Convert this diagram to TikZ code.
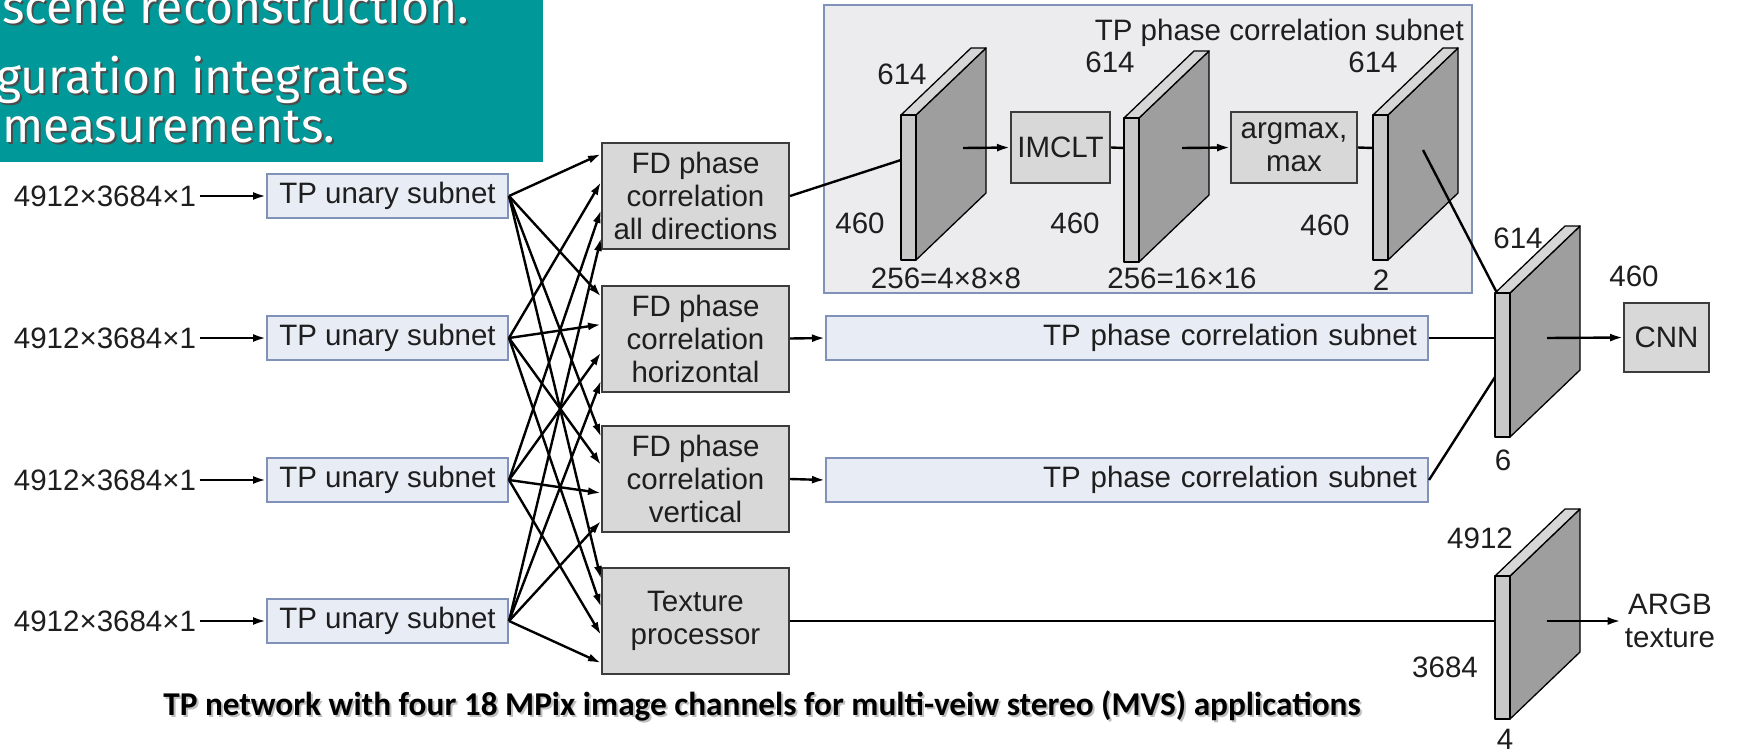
\documentclass[tikz,border=0pt]{standalone}
\usepackage{fontspec}
\setmainfont{Liberation Sans}
\newfontfamily\capfont{Carlito}
\newfontfamily\tealfont{Fira Sans}
\usetikzlibrary{arrows.meta}

\definecolor{teal1}{RGB}{0,152,152}
\definecolor{unfill}{RGB}{232,236,245}
\definecolor{unbord}{RGB}{128,146,184}
\definecolor{bigfill}{RGB}{236,236,238}
\definecolor{fdfill}{RGB}{216,216,216}
\definecolor{fdbord}{RGB}{60,60,60}
\definecolor{slabfront}{RGB}{200,200,200}
\definecolor{slabtop}{RGB}{214,214,214}
\definecolor{slabside}{RGB}{158,158,158}
\definecolor{txt}{RGB}{30,30,30}

\newcommand{\mkslab}[4]{%
  \coordinate (#1-a) at (#2,#3);
  \coordinate (#1-b) at (#2+15,#3);
  \coordinate (#1-c) at (#2+15,#3+#4);
  \coordinate (#1-d) at (#2,#3+#4);
  \coordinate (#1-e) at (#2+85,#3-67);
  \coordinate (#1-f) at (#2+70,#3-67);
  \coordinate (#1-g) at (#2+85,#3-67+#4);
  \filldraw[slabline, fill=slabside] (#1-b) -- (#1-e) -- (#1-g) -- (#1-c) -- cycle;
  \filldraw[slabline, fill=slabtop] (#1-a) -- (#1-f) -- (#1-e) -- (#1-b) -- cycle;
  \filldraw[slabline, fill=slabfront] (#1-a) -- (#1-b) -- (#1-c) -- (#1-d) -- cycle;
}

\begin{document}
\begin{tikzpicture}[x=1pt,y=-1pt,
  every node/.style={font=\fontsize{29.5pt}{33pt}\selectfont, text=txt},
  unbox/.style={draw=unbord, fill=unfill, line width=2pt, minimum width=241pt, minimum height=44pt, inner sep=0pt},
  fdbox/.style={draw=fdbord, fill=fdfill, line width=2pt, minimum width=187pt, minimum height=106pt, inner sep=0pt, align=center},
  opbox/.style={draw=fdbord, fill=fdfill, line width=2pt, inner sep=0pt, align=center},
  subbox/.style={draw=unbord, fill=unfill, line width=2pt, minimum height=44pt, text width=580pt, inner xsep=11pt, inner ysep=0pt, align=right},
  slabline/.style={draw=black, line width=1.3pt, line join=round},
  conn/.style={line width=2.4pt, draw=black},
  arr/.style={conn, -{Latex[length=13pt,width=8pt]}},
  lbl/.style={inner sep=0pt},
  tealtxt/.style={anchor=base west, inner sep=0pt, font=\tealfont\fontsize{48pt}{54pt}\selectfont},
  captxt/.style={font=\capfont\bfseries\fontsize{33.3pt}{37pt}\selectfont},
]
\useasboundingbox (0,0) rectangle (1744,752);
\clip (0,0) rectangle (1744,752);
\fill[white] (0,0) rectangle (1744,752);

% teal slide fragment
\fill[teal1] (0,0) rectangle (543,162);
\node[tealtxt, text=black!70] (t1s) at (4,26) {scene reconstruction.};
\node[tealtxt, text=white] (t1) at (2,24) {scene reconstruction.};
\node[tealtxt, text=black!70] (t2s) at (-2,95) {guration integrates};
\node[tealtxt, text=white] (t2) at (-4,93) {guration integrates};
\node[tealtxt, text=black!70] (t3s) at (4,144) {measurements.};
\node[tealtxt, text=white] (t3) at (2,142) {measurements.};

% big subnet box
\node[draw=unbord, fill=bigfill, line width=2pt, minimum width=648pt, minimum height=288pt, inner sep=0pt] (big) at (1148,149) {};
\node[lbl, anchor=east] (bigt) at (1464,33) {TP phase correlation subnet};

% inputs and unary subnets
\foreach \k/\y in {1/196,2/338,3/480,4/621}{
  \node (in\k) at (105,\y) {4912×3684×1};
  \node[unbox] (un\k) at (387.5,\y) {TP unary subnet};
  \draw[arr] (in\k.east) -- (un\k.west);
}

% FD boxes
\node[fdbox] (fd1) at (695.5,196) {FD phase\\correlation\\all directions};
\node[fdbox] (fd2) at (695.5,338.5) {FD phase\\correlation\\horizontal};
\node[fdbox] (fd3) at (695.5,479) {FD phase\\correlation\\vertical};
\node[fdbox] (fd4) at (695.5,621) {Texture\\processor};

% crossbar connections
\foreach \k/\off in {1/12,2/40,3/68,4/96}{
  \foreach \j in {1,2,3,4}{
    \draw[arr] (un\k.east) -- ([yshift=-\off pt]fd\j.north west);
  }
}

% subnet internals
\node[opbox, minimum width=99pt, minimum height=71pt] (imclt) at (1060.5,147.5) {IMCLT};
\node[opbox, minimum width=126pt, minimum height=71pt] (amax) at (1294,147.5) {argmax,\\max};

\mkslab{s1}{901}{115}{145}
\mkslab{s2}{1124}{118}{144}
\mkslab{s3}{1373}{115}{145}

\coordinate (s1in) at (901,160);
\coordinate (s1out) at (963,148);
\coordinate (s2in) at (1124,148);
\coordinate (s2out) at (1182,148);
\coordinate (s3in) at (1373,148);
\coordinate (s3out) at (1423,150);

\node[lbl] (l1a) at (902,74) {614};
\node[lbl] (l1b) at (860,223) {460};
\node[lbl] (l1c) at (946,278) {256=4×8×8};
\node[lbl] (l2a) at (1110,62) {614};
\node[lbl] (l2b) at (1075,223) {460};
\node[lbl] (l2c) at (1182,278) {256=16×16};
\node[lbl] (l3a) at (1373,62) {614};
\node[lbl] (l3b) at (1325,225) {460};
\node[lbl] (l3c) at (1381,280) {2};

\draw[conn] (fd1.east) -- (s1in);
\draw[arr] (s1out) -- (imclt.west);
\draw[conn] (imclt.east) -- (s2in);
\draw[arr] (s2out) -- (amax.west);
\draw[conn] (amax.east) -- (s3in);

% other subnets
\node[subbox] (sub2) at (1127,338) {TP phase correlation subnet};
\node[subbox] (sub3) at (1127,480) {TP phase correlation subnet};
\draw[arr] (fd2.east) -- (sub2.west);
\draw[arr] (fd3.east) -- (sub3.west);

% merge slabs
\mkslab{s4}{1495}{293}{144}
\mkslab{s5}{1495}{576}{143}
\coordinate (s4top) at (1497,293);
\coordinate (s4in2) at (1495,338);
\coordinate (s4in3) at (1495,377);
\coordinate (s4out) at (1547,338);
\coordinate (s5in) at (1495,621);
\coordinate (s5out) at (1547,621);

\draw[conn] (s3out) -- (s4top);
\draw[conn] (sub2.east) -- (s4in2);
\draw[conn] (sub3.east) -- (s4in3);
\draw[conn] (fd4.east) -- (s5in);

\node[lbl] (l4a) at (1518,238) {614};
\node[lbl] (l4b) at (1634,276) {460};
\node[lbl] (l4c) at (1503,460) {6};
\node[lbl] (l5a) at (1480,538) {4912};
\node[lbl] (l5b) at (1445,667) {3684};
\node[lbl] (l5c) at (1505,739) {4};

\node[opbox, minimum width=85pt, minimum height=69pt] (cnn) at (1666.5,337.5) {CNN};
\draw[arr] (s4out) -- (cnn.west);
\node[align=center, inner xsep=4pt] (argb) at (1670,621) {ARGB\\texture};
\draw[arr] (s5out) -- (argb.west);

% caption
\node[captxt, text=black!25] (caps) at (764,708) {TP network with four 18 MPix image channels for multi-veiw stereo (MVS) applications};
\node[captxt, text=black] (cap) at (762,706) {TP network with four 18 MPix image channels for multi-veiw stereo (MVS) applications};
\end{tikzpicture}
\end{document}
